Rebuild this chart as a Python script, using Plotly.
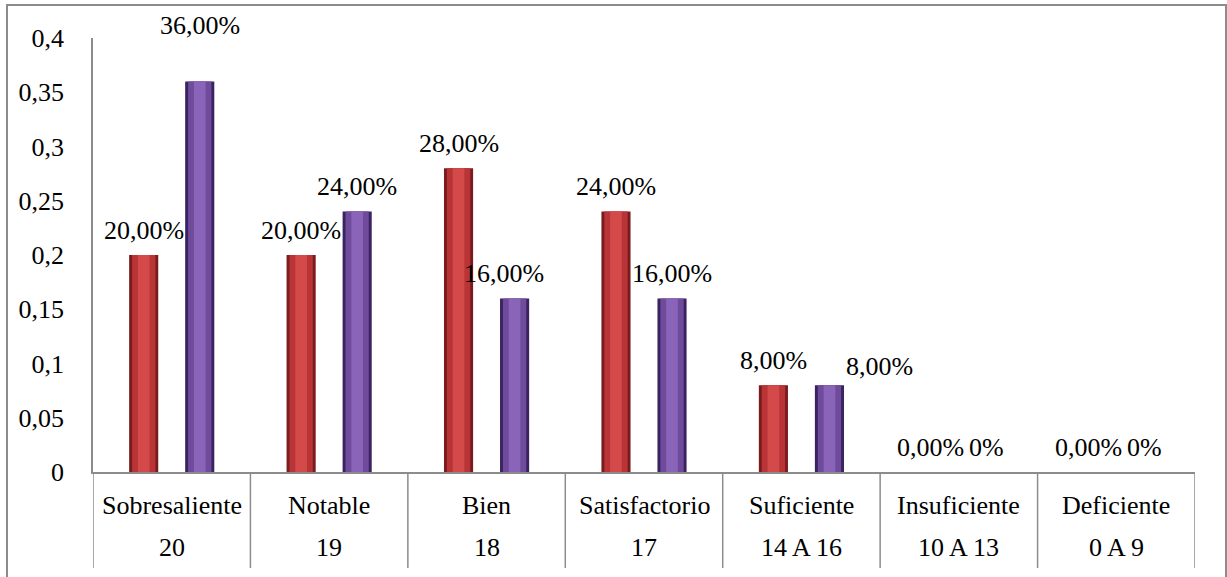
import plotly.graph_objects as go

categories = ["Sobresaliente", "Notable", "Bien", "Satisfactorio", "Suficiente", "Insuficiente", "Deficiente"]
ranges = ["20", "19", "18", "17", "14 A 16", "10 A 13", "0 A 9"]
serie_roja = [0.20, 0.20, 0.28, 0.24, 0.08, 0.00, 0.00]
serie_morada = [0.36, 0.24, 0.16, 0.16, 0.08, 0.00, 0.00]
y_ticks = [0, 0.05, 0.1, 0.15, 0.2, 0.25, 0.3, 0.35, 0.4]

FONT = "Liberation Serif"
FS = 26

def fmt_pct(v, zero_short=False):
    if zero_short and v == 0:
        return "0%"
    return f"{v*100:.2f}%".replace(".", ",")

fig = go.Figure()

OFF = 0.178   # offset of each series from category centre (category units)
W = 0.185     # bar width

series = [
    (serie_roja, -OFF, ["#7a1c1e", "#b83436", "#d44a4b"]),
    (serie_morada, OFF, ["#3a2360", "#6f4b9c", "#8a64b8"]),
]
for vals, off, cols in series:
    layers = [(W, cols[0]), (W * 0.80, cols[1]), (W * 0.40, cols[2])]
    for w, c in layers:
        fig.add_trace(go.Bar(
            x=categories, y=vals, width=w, offset=off - w / 2,
            marker=dict(color=c, line=dict(width=0)),
            hoverinfo="skip", showlegend=False,
        ))

# data labels (label placement tweaks, in pixels)
extra = {
    (1, 0): (0, 31),
    (1, 2): (-11, 0),
    (1, 4): (50, -6),
}
px_off = 28
for s, (vals, zero_short) in enumerate([(serie_roja, False), (serie_morada, True)]):
    for i, v in enumerate(vals):
        dx, dy = extra.get((s, i), (0, 0))
        fig.add_annotation(
            x=categories[i], y=v, xref="x", yref="y",
            text=fmt_pct(v, zero_short), showarrow=False,
            xshift=(-px_off if s == 0 else px_off) + dx, yshift=25 + dy,
            yanchor="middle", xanchor="center",
            font=dict(family=FONT, size=FS, color="black"),
        )

# two-level category labels
for i, (c, r) in enumerate(zip(categories, ranges)):
    fig.add_annotation(x=categories[i], y=-0.078, xref="x", yref="paper", text=c,
                       showarrow=False, yanchor="middle",
                       font=dict(family=FONT, size=FS, color="black"))
    fig.add_annotation(x=categories[i], y=-0.175, xref="x", yref="paper", text=r,
                       showarrow=False, yanchor="middle",
                       font=dict(family=FONT, size=FS, color="black"))

# dividers
for k in range(len(categories) + 1):
    fig.add_shape(type="line", xref="x", yref="paper", x0=k - 0.5, x1=k - 0.5,
                  y0=0, y1=-0.221, line=dict(color="#8c8c8c", width=1.5))

# outer border
fig.add_shape(type="rect", xref="paper", yref="paper",
              x0=(7 - 93) / 1102, x1=(1226 - 93) / 1102,
              y0=-0.4, y1=(472 - 5) / 434,
              line=dict(color="#8c8c8c", width=2), fillcolor="rgba(0,0,0,0)")

fig.update_layout(
    width=1227, height=577,
    margin=dict(l=93, r=32, t=38, b=105),
    paper_bgcolor="white", plot_bgcolor="white",
    barmode="overlay",
    separators=",.",
    showlegend=False,
    font=dict(family=FONT, size=FS, color="black"),
)
fig.update_xaxes(
    type="category", range=[-0.5, 6.5], showticklabels=False, ticks="",
    showline=True, linecolor="#8c8c8c", linewidth=1.5, showgrid=False, zeroline=False,
)
fig.update_yaxes(
    range=[0, 0.4], tickvals=y_ticks, ticktext=[str(t).replace(".", ",") for t in y_ticks],
    showline=True, linecolor="#8c8c8c", linewidth=1.5, showgrid=False, zeroline=False,
    ticks="", ticklabelstandoff=22, tickfont=dict(family=FONT, size=FS, color="black"),
)

fig.write_html("out.html")
